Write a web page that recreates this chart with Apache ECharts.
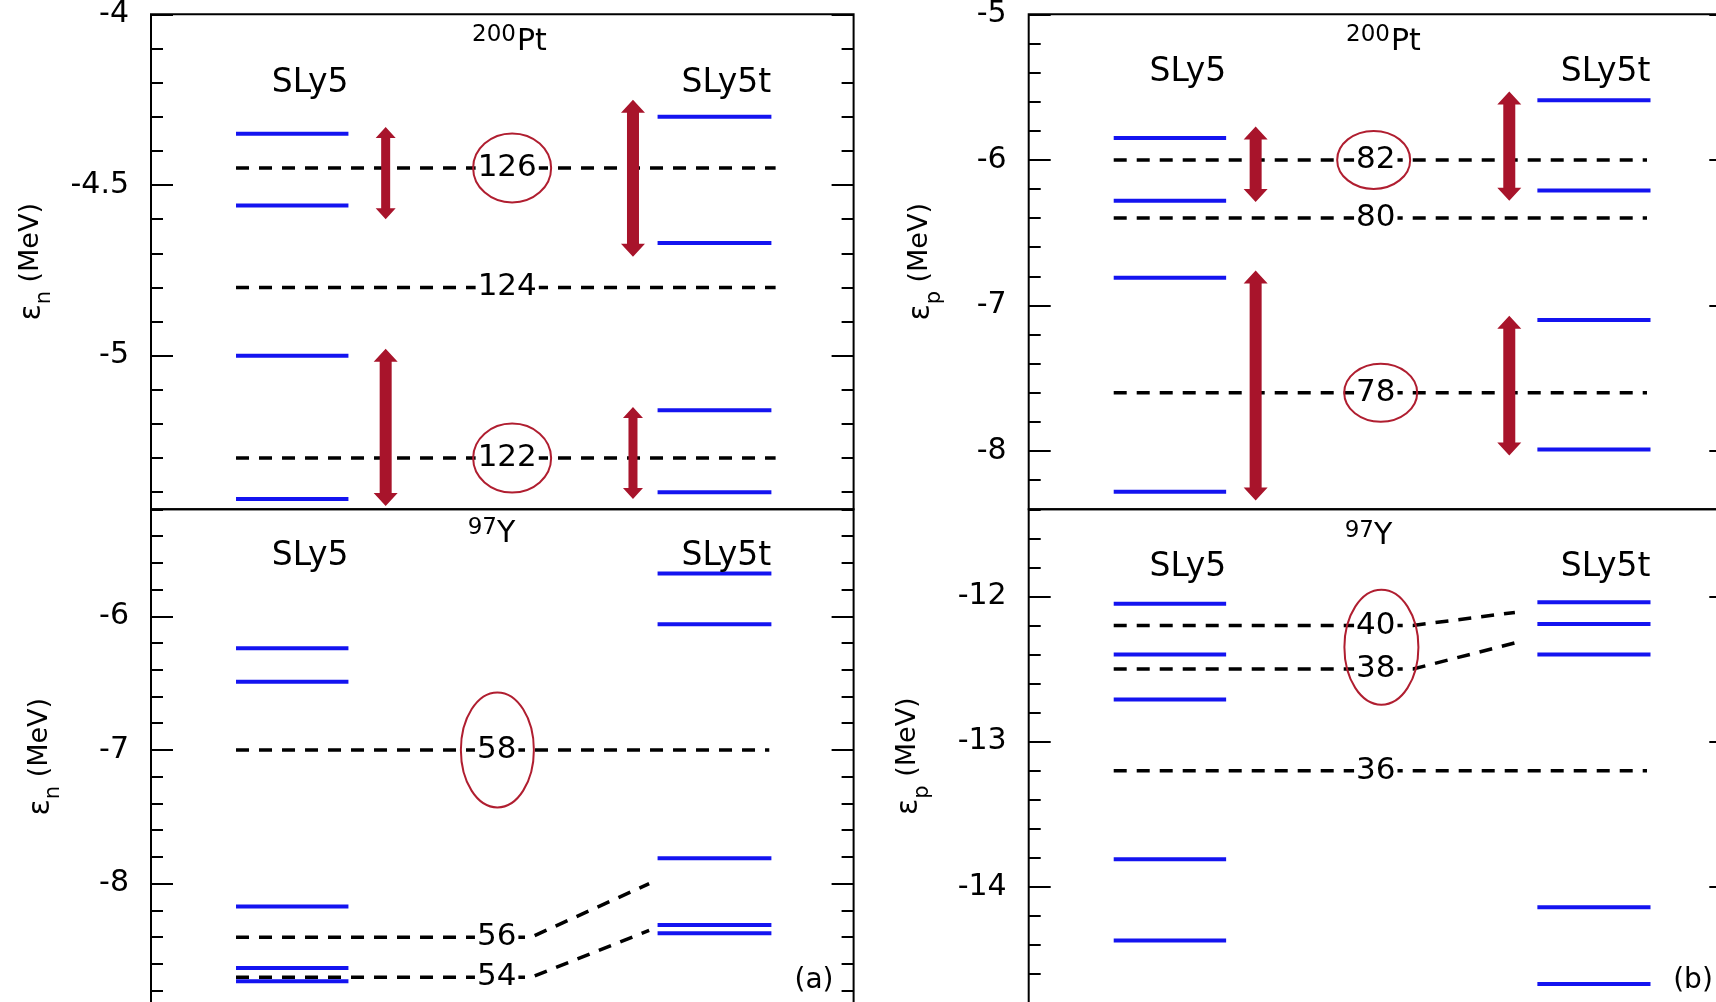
<!DOCTYPE html>
<html>
<head>
<meta charset="utf-8">
<script src="https://cdn.jsdelivr.net/npm/echarts@6/dist/echarts.min.js"></script>
<style>
  html, body { margin: 0; padding: 0; background: #fff; }
  #chart { width: 1716px; height: 1002px; }
</style>
</head>
<body>
<div id="chart"></div>
<script>
// ---------- single-particle energies (MeV) ----------
// 200Pt neutrons
const ptN_SLy5      = [-4.35, -4.56, -5.00, -5.42];
const ptN_SLy5t     = [-4.30, -4.67, -5.16, -5.40];
const ptN_magic     = [126, 124, 122];
const ptN_gapSLy5   = [-4.45, -4.80, -5.30];
const ptN_gapSLy5t  = [-4.45, -4.80, -5.30];
const ptN_arrSLy5   = [[-4.33, -4.60], [-4.98, -5.44]];
const ptN_arrSLy5t  = [[-4.25, -4.71], [-5.15, -5.42]];
const ptN_circled   = [[126], [122]];
const ptN_ticks     = [-4, -4.5, -5];

// 97Y neutrons
const yN_SLy5       = [-6.24, -6.49, -8.17, -8.63, -8.73];
const yN_SLy5t      = [-5.68, -6.06, -7.81, -8.31, -8.37];
const yN_magic      = [58, 56, 54];
const yN_gapSLy5    = [-7.0, -8.4, -8.7];
const yN_gapSLy5t   = [-7.0, -8.0, -8.35];
const yN_arrSLy5    = [];
const yN_arrSLy5t   = [];
const yN_circled    = [[58]];
const yN_ticks      = [-6, -7, -8];

// 200Pt protons
const ptP_SLy5      = [-5.85, -6.28, -6.81, -8.28];
const ptP_SLy5t     = [-5.59, -6.21, -7.10, -7.99];
const ptP_magic     = [82, 80, 78];
const ptP_gapSLy5   = [-6.0, -6.4, -7.6];
const ptP_gapSLy5t  = [-6.0, -6.4, -7.6];
const ptP_arrSLy5   = [[-5.77, -6.29], [-6.76, -8.34]];
const ptP_arrSLy5t  = [[-5.53, -6.28], [-7.07, -8.03]];
const ptP_circled   = [[82], [78]];
const ptP_ticks     = [-5, -6, -7, -8];

// 97Y protons
const yP_SLy5       = [-12.05, -12.40, -12.71, -13.81, -14.37];
const yP_SLy5t      = [-12.04, -12.19, -12.40, -14.14, -14.67];
const yP_magic      = [40, 38, 36];
const yP_gapSLy5    = [-12.2, -12.5, -13.2];
const yP_gapSLy5t   = [-12.11, -12.32, -13.2];
const yP_arrSLy5    = [];
const yP_arrSLy5t   = [];
const yP_circled    = [[40, 38]];
const yP_ticks      = [-12, -13, -14];

// ---------- styling / layout ----------
const FONT = 'DejaVu Sans';
const BLUE = '#1414f0';
const RED = '#a8142b';
const RING = '#b01e30';
const PANEL_W = 702.6;

const panels = [
  { // (a) top: 200Pt neutrons
    left: 151, top: 14.3, height: 495, min: -5.45, max: -4, minorStep: 0.1,
    ticks: ptN_ticks, name: 'n', nameGap: 96,
    sly5: ptN_SLy5, sly5t: ptN_SLy5t, magic: ptN_magic, gapL: ptN_gapSLy5, gapR: ptN_gapSLy5t,
    arrL: ptN_arrSLy5, arrR: ptN_arrSLy5t, arrWL: ['thin', 'thick'], arrWR: ['thick', 'thin'],
    circled: ptN_circled, ring: [39, 34.5], ringDX: [0.7, 0.7],
    xs: { sly5: [12.1, 28.1], sly5t: [72.1, 88.3], dash: [12.1, 88.9], slant: [54.1, 70.9], label: 50.7, arrow: [33.4, 68.6] }
  },
  { // (a) bottom: 97Y neutrons
    left: 151, top: 509.3, height: 494.7, min: -8.9, max: -5.2, minorStep: 0.2,
    ticks: yN_ticks, name: 'n', nameGap: 87,
    sly5: yN_SLy5, sly5t: yN_SLy5t, magic: yN_magic, gapL: yN_gapSLy5, gapR: yN_gapSLy5t,
    arrL: yN_arrSLy5, arrR: yN_arrSLy5t, arrWL: [], arrWR: [],
    circled: yN_circled, ring: [36.5, 57.5], ringDX: [0.1],
    xs: { sly5: [12.1, 28.1], sly5t: [72.1, 88.3], dash: [12.1, 88.0], slant: [54.1, 70.9], label: 49.2, arrow: [33.4, 68.6] }
  },
  { // (b) top: 200Pt protons
    left: 1028.7, top: 14.3, height: 495, min: -8.4, max: -5, minorStep: 0.2,
    ticks: ptP_ticks, name: 'p', nameGap: 84,
    sly5: ptP_SLy5, sly5t: ptP_SLy5t, magic: ptP_magic, gapL: ptP_gapSLy5, gapR: ptP_gapSLy5t,
    arrL: ptP_arrSLy5, arrR: ptP_arrSLy5t, arrWL: ['thick', 'thick'], arrWR: ['thick', 'thick'],
    circled: ptP_circled, ring: [36.5, 29], ringDX: [-0.3, 0.7],
    xs: { sly5: [12.1, 28.1], sly5t: [72.4, 88.5], dash: [12.1, 88.0], slant: [54.7, 69.2], label: 49.4, arrow: [32.3, 68.4] }
  },
  { // (b) bottom: 97Y protons
    left: 1028.7, top: 509.3, height: 493.7, min: -14.8, max: -11.4, minorStep: 0.2,
    ticks: yP_ticks, name: 'p', nameGap: 96,
    sly5: yP_SLy5, sly5t: yP_SLy5t, magic: yP_magic, gapL: yP_gapSLy5, gapR: yP_gapSLy5t,
    arrL: yP_arrSLy5, arrR: yP_arrSLy5t, arrWL: [], arrWR: [],
    circled: yP_circled, ring: [37, 57.5], ringDX: [0.8],
    xs: { sly5: [12.1, 28.1], sly5t: [72.4, 88.5], dash: [12.1, 88.0], slant: [54.7, 69.2], label: 49.4, arrow: [32.3, 68.4] }
  }
];

const ARROW = {
  thin:  { shaft: 9,  head: 20, len: 11 },
  thick: { shaft: 12, head: 24, len: 13 }
};

function minorTicks(p) {
  const out = [];
  const n = Math.round((p.max - p.min) / p.minorStep);
  for (let i = 0; i <= n; i++) out.push(Math.round((p.max - i * p.minorStep) * 100) / 100);
  return out;
}

const grids = [], xAxes = [], yAxes = [], series = [];

panels.forEach((p, gi) => {
  grids.push({
    left: p.left, top: p.top, width: PANEL_W, height: p.height,
    show: true, borderColor: '#000', borderWidth: 2, backgroundColor: 'transparent',
    containLabel: false, outerBoundsMode: 'none'
  });
  xAxes.push({ type: 'value', gridIndex: gi, min: 0, max: 100, show: false });

  const minors = minorTicks(p);
  const tickStyle = { color: '#000', width: 2 };
  const base = { type: 'value', gridIndex: gi, min: p.min, max: p.max, splitLine: { show: false },
                 axisLine: { show: false } };
  // major ticks with labels (left)
  yAxes.push(Object.assign({}, base, {
    position: 'left',
    axisTick: { show: true, inside: true, length: 22, lineStyle: tickStyle, customValues: p.ticks },
    axisLabel: { show: true, customValues: p.ticks, margin: 22, color: '#000', fontFamily: FONT, fontSize: 30 },
    name: '{e|ε}{s|' + p.name + '}{m| (MeV)}',
    nameLocation: 'middle', nameRotate: 90, nameGap: p.nameGap,
    nameTextStyle: {
      color: '#000', fontFamily: FONT, fontSize: 27,
      rich: {
        e: { fontFamily: FONT, fontSize: 30, lineHeight: 38, verticalAlign: 'top', color: '#000' },
        s: { fontFamily: FONT, fontSize: 21, lineHeight: 18, verticalAlign: 'bottom', color: '#000' },
        m: { fontFamily: FONT, fontSize: 27, lineHeight: 38, verticalAlign: 'top', color: '#000' }
      }
    }
  }));
  // minor ticks (left)
  yAxes.push(Object.assign({}, base, {
    position: 'left',
    axisTick: { show: true, inside: true, length: 12, lineStyle: tickStyle, customValues: minors },
    axisLabel: { show: false }
  }));
  // major ticks (right)
  yAxes.push(Object.assign({}, base, {
    position: 'right',
    axisTick: { show: true, inside: true, length: 22, lineStyle: tickStyle, customValues: p.ticks },
    axisLabel: { show: false }
  }));
  // minor ticks (right)
  yAxes.push(Object.assign({}, base, {
    position: 'right',
    axisTick: { show: true, inside: true, length: 12, lineStyle: tickStyle, customValues: minors },
    axisLabel: { show: false }
  }));

  const common = { type: 'custom', coordinateSystem: 'cartesian2d', xAxisIndex: gi, yAxisIndex: gi * 4,
                   silent: true, animation: false, clip: false };

  // gap lines (dashed), optionally bending towards the SLy5t side
  series.push(Object.assign({}, common, {
    z: 2,
    data: p.magic.map((n, i) => [n, p.gapL[i], p.gapR[i]]),
    renderItem: (params, api) => {
      const eL = api.value(1), eR = api.value(2);
      let pts;
      if (Math.abs(eL - eR) < 1e-9) {
        pts = [api.coord([p.xs.dash[0], eL]), api.coord([p.xs.dash[1], eL])];
      } else {
        pts = [api.coord([p.xs.dash[0], eL]), api.coord([p.xs.slant[0], eL]), api.coord([p.xs.slant[1], eR])];
      }
      return { type: 'polyline', shape: { points: pts },
               style: { fill: null, stroke: '#000', lineWidth: 3.5, lineDash: [13, 10] } };
    }
  }));

  // single-particle levels
  [[p.sly5, p.xs.sly5], [p.sly5t, p.xs.sly5t]].forEach(([levels, span]) => {
    series.push(Object.assign({}, common, {
      z: 3,
      data: levels.map(e => [0, e]),
      renderItem: (params, api) => {
        const e = api.value(1);
        const a = api.coord([span[0], e]), b = api.coord([span[1], e]);
        return { type: 'line', shape: { x1: a[0], y1: a[1], x2: b[0], y2: b[1] },
                 style: { stroke: BLUE, lineWidth: 4 } };
      }
    }));
  });

  // shell-gap labels
  series.push(Object.assign({}, common, {
    z: 4,
    data: p.magic.map((n, i) => [n, p.gapL[i]]),
    renderItem: (params, api) => {
      const c = api.coord([p.xs.label, api.value(1)]);
      return { type: 'text', x: c[0], y: c[1],
               style: { text: String(api.value(0)), fill: '#000', fontFamily: FONT, fontSize: 31,
                        align: 'center', verticalAlign: 'middle', backgroundColor: '#fff', padding: [0, 2] } };
    }
  }));

  // rings around highlighted gaps
  series.push(Object.assign({}, common, {
    z: 5,
    data: p.circled.map((group, k) => {
      const es = group.map(n => p.gapL[p.magic.indexOf(n)]);
      return [k, es.reduce((s, v) => s + v, 0) / es.length];
    }),
    renderItem: (params, api) => {
      const c = api.coord([p.xs.label + p.ringDX[api.value(0)], api.value(1)]);
      return { type: 'ellipse', shape: { cx: c[0], cy: c[1], rx: p.ring[0], ry: p.ring[1] },
               style: { fill: null, stroke: RING, lineWidth: 2 } };
    }
  }));

  // double arrows marking the gaps
  [[p.arrL, p.xs.arrow[0], p.arrWL], [p.arrR, p.xs.arrow[1], p.arrWR]].forEach(([arrs, ax, widths]) => {
    if (!arrs.length) return;
    series.push(Object.assign({}, common, {
      z: 6,
      data: arrs.map((a, i) => [i, a[0], a[1]]),
      renderItem: (params, api) => {
        const w = ARROW[widths[api.value(0)]];
        const t = api.coord([ax, api.value(1)]), b = api.coord([ax, api.value(2)]);
        const x = t[0], yt = t[1], yb = b[1], hs = w.shaft / 2, hh = w.head / 2;
        const pts = [
          [x, yt], [x + hh, yt + w.len], [x + hs, yt + w.len], [x + hs, yb - w.len], [x + hh, yb - w.len],
          [x, yb], [x - hh, yb - w.len], [x - hs, yb - w.len], [x - hs, yt + w.len], [x - hh, yt + w.len]
        ];
        return { type: 'polygon', shape: { points: pts }, style: { fill: RED, stroke: null } };
      }
    }));
  });
});

// ---------- text annotations ----------
function txt(text, x, y, size, align) {
  return { type: 'text', x: x, y: y, z: 10, silent: true,
           style: { text: text, fill: '#000', fontFamily: FONT, fontSize: size,
                    align: align || 'center', verticalAlign: 'middle' } };
}
const graphics = [
  // nucleus titles
  txt('200', 516, 35, 23, 'right'), txt('Pt', 517, 42, 30, 'left'),
  txt('97', 497, 528, 23, 'right'), txt('Y', 497, 534, 30, 'left'),
  txt('200', 1390, 35, 23, 'right'), txt('Pt', 1391, 42, 30, 'left'),
  txt('97', 1374, 531, 23, 'right'), txt('Y', 1374, 536, 30, 'left'),
  // functional labels
  txt('SLy5', 348.6, 83, 33, 'right'), txt('SLy5t', 771.2, 83, 33, 'right'),
  txt('SLy5', 348.6, 556, 33, 'right'), txt('SLy5t', 771.2, 556, 33, 'right'),
  txt('SLy5', 1226.3, 72, 33, 'right'), txt('SLy5t', 1650.5, 72, 33, 'right'),
  txt('SLy5', 1226.3, 567, 33, 'right'), txt('SLy5t', 1650.5, 567, 33, 'right'),
  // panel tags
  txt('(a)', 814, 981, 28), txt('(b)', 1693, 981, 28)
];

const chart = echarts.init(document.getElementById('chart'));
chart.setOption({
  backgroundColor: '#fff',
  animation: false,
  grid: grids,
  xAxis: xAxes,
  yAxis: yAxes,
  series: series,
  graphic: graphics
});
</script>
</body>
</html>
